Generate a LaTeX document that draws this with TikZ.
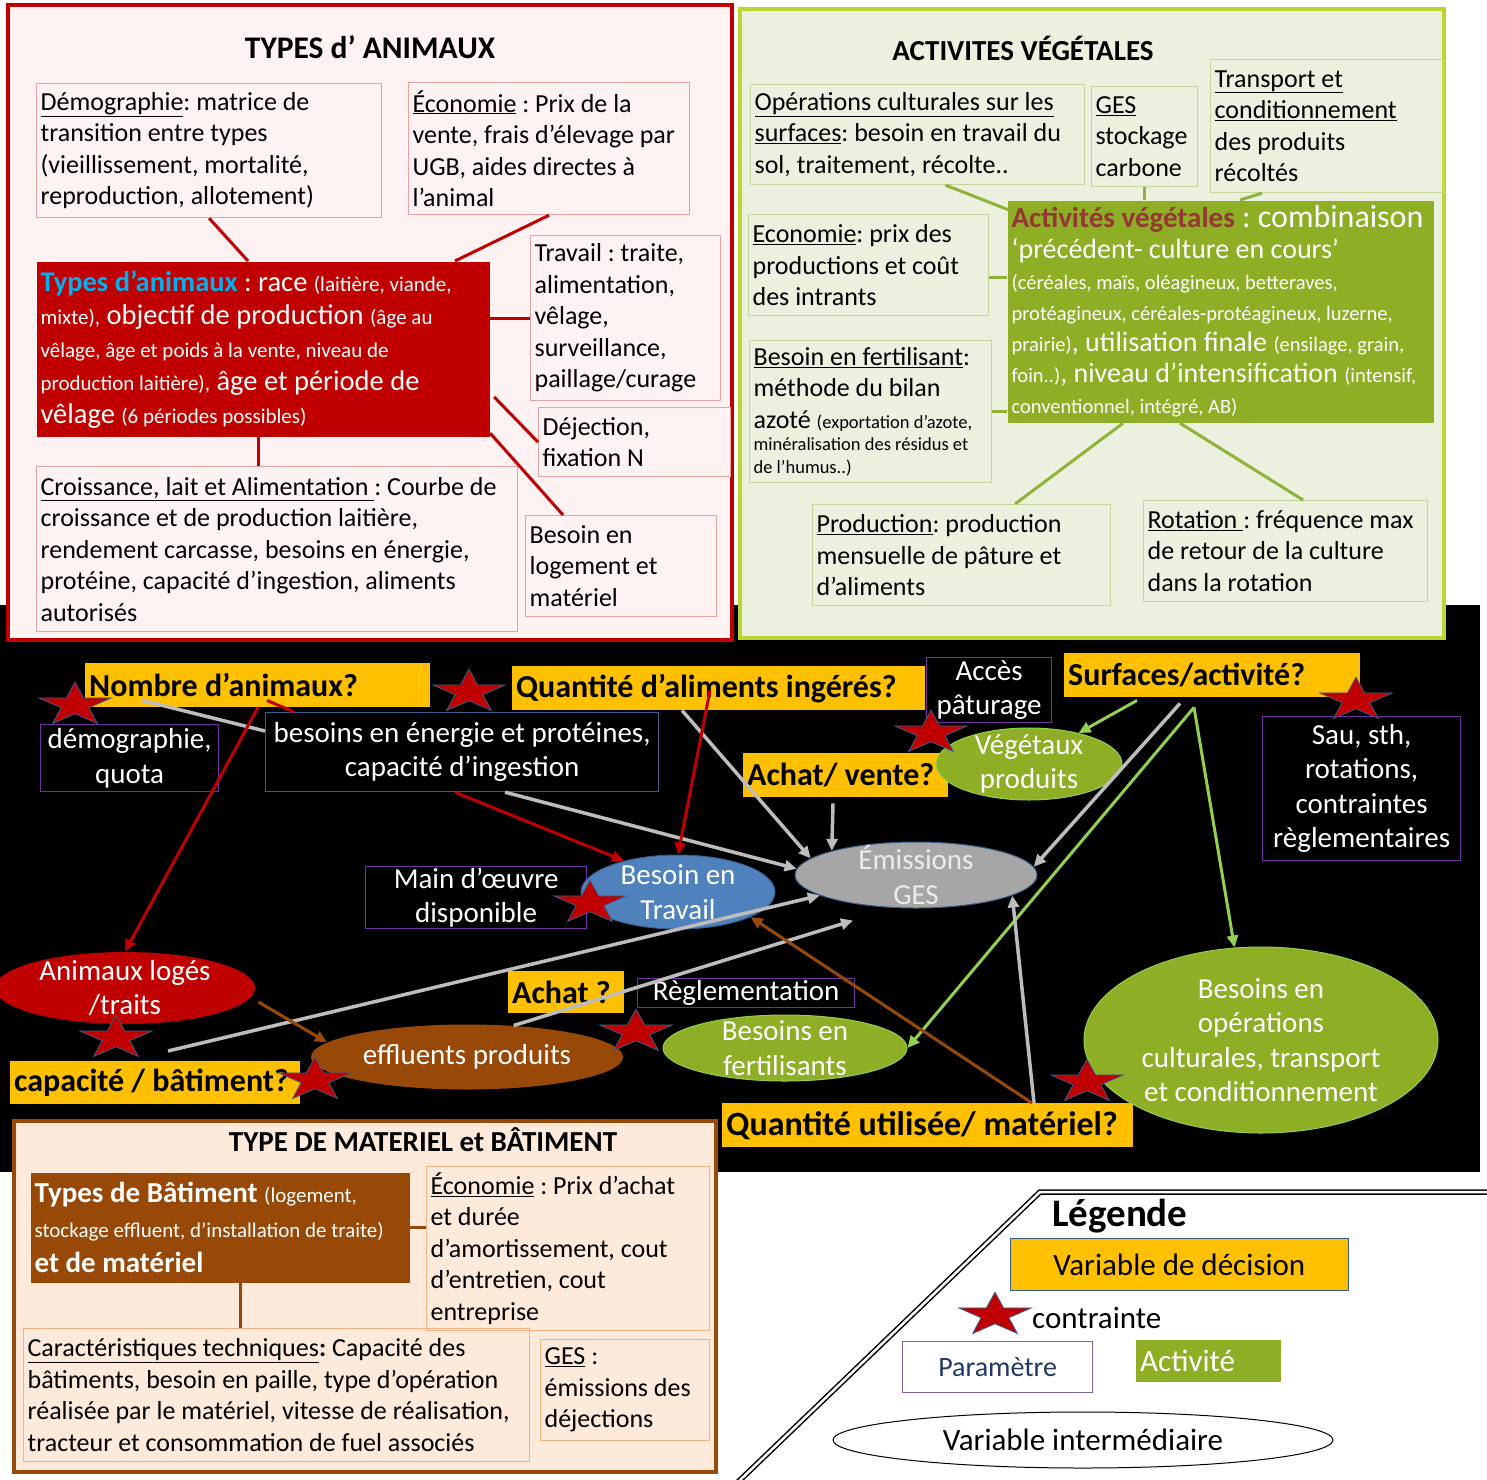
\documentclass[tikz,border=0pt]{standalone}
\usepackage{fontspec}
\setmainfont{Carlito}
\usetikzlibrary{calc}
\usetikzlibrary{shapes.geometric}
\usetikzlibrary{arrows.meta}
\frenchspacing

\definecolor{rougeF}{HTML}{C00000}
\definecolor{fondRose}{HTML}{FFF2F2}
\definecolor{bordRose}{HTML}{E6A3A3}
\definecolor{vertCadre}{HTML}{BCD631}
\definecolor{fondVert}{HTML}{EBF1DE}
\definecolor{bordVert}{HTML}{C3D69B}
\definecolor{vertOlive}{HTML}{8EAE26}
\definecolor{rougeTitre}{HTML}{953735}
\definecolor{cyanT}{HTML}{00B0F0}
\definecolor{jaune}{HTML}{FFC000}
\definecolor{violetP}{HTML}{7030A0}
\definecolor{violetL}{HTML}{8064A2}
\definecolor{bleuE}{HTML}{4F81BD}
\definecolor{bleuB}{HTML}{385D8A}
\definecolor{grisE}{HTML}{A6A6A6}
\definecolor{grisT}{HTML}{BDBDBD}
\definecolor{brun}{HTML}{984807}
\definecolor{fondPeche}{HTML}{FDEADA}
\definecolor{bordPeche}{HTML}{F4B183}
\definecolor{vertClair}{HTML}{92D050}
\definecolor{vertTrait}{HTML}{8DB33A}
\definecolor{marine}{HTML}{1F3864}

\newcommand{\txtN}{\fontsize{26}{31.5}\selectfont}
\newcommand{\txtP}{\fontsize{21}{25}\selectfont}
\newcommand{\txtG}{\fontsize{28.5}{33}\selectfont}
\newcommand{\txtB}{\fontsize{29}{34.5}\selectfont}
\newcommand{\txtL}{\fontsize{31}{36}\selectfont}

\tikzset{
  titreP/.style={font=\bfseries\fontsize{29}{34}\selectfont},
  boite/.style={anchor=north west, align=flush left, inner xsep=4pt, inner ysep=2pt, font=\txtN, line width=1.2pt},
  boiteR/.style={boite, draw=bordRose},
  boiteV/.style={boite, draw=bordVert},
  boiteP/.style={boite, draw=bordPeche},
  decision/.style={anchor=north west, align=flush left, fill=jaune, inner xsep=4pt, inner ysep=0pt, minimum height=44pt, font=\bfseries\fontsize{32}{36}\selectfont},
  param/.style={anchor=north west, align=center, draw=violetP, line width=1.2pt, inner sep=0pt, text=white, font=\txtB},
  ell/.style={ellipse, inner sep=0pt, line width=1pt},
  txtEll/.style={align=center, text=white, font=\txtB, inner sep=0pt},
  contrainte/.style={star, star points=5, star point ratio=2.6, minimum size=76pt, inner sep=0pt, fill=rougeF, draw=bleuB, line width=0.8pt, yscale=0.6},
  fleche/.style={-{Triangle[length=12pt, width=11pt]}},
  lienR/.style={draw=rougeF, line width=3pt},
  lienV/.style={draw=vertTrait, line width=3pt},
  lienB/.style={draw=brun, line width=3pt},
  gris/.style={draw=grisT, line width=3.5pt},
  rouge/.style={draw=rougeF, line width=3pt},
  vert/.style={draw=vertClair, line width=3pt},
  brunT/.style={draw=brun, line width=3pt}
}

\begin{document}
\begin{tikzpicture}[x=1pt, y=-1pt]
  \path[use as bounding box, fill=white] (0,0) rectangle (1487,1479);
  \fill[black] (0,605) rectangle (1480,1172);

  % types d'animaux
  \draw[line width=3.5pt, draw=rougeF, fill=fondRose] (8,5) rectangle (732,640);
  \node[titreP, font=\bfseries\fontsize{31.5}{36}\selectfont] (titreA) at (370,47) {TYPES d’ ANIMAUX};
  \node[boiteR, text width=337pt, minimum height=134pt] (demo) at (36,83)
    {\underline{Démographie}: matrice de\\transition entre types\\(vieillissement, mortalité,\\reproduction, allotement)};
  \node[boiteR, text width=273pt, minimum height=132pt] (ecoA) at (408,82)
    {\underline{Économie} : Prix de la\\vente, frais d’élevage par\\UGB, aides directes à\\l’animal};
  \node[boiteR, text width=182pt, minimum height=165pt] (travailA) at (530,235)
    {Travail : traite,\\alimentation,\\vêlage,\\surveillance,\\paillage/curage};
  \node[boite, fill=rougeF, text=white, font=\txtG, text width=445pt, minimum height=175pt] (typesA) at (36,261)
    {{\bfseries\color{cyanT}Types d’animaux} : race {\txtP (laitière, viande,}\\
     {\txtP mixte),} objectif de production {\txtP (âge au}\\
     {\txtP vêlage, âge et poids à la vente, niveau de}\\
     {\txtP production laitière),} âge et période de\\
     vêlage {\txtP (6 périodes possibles)}};
  \node[boiteR, text width=184pt, minimum height=69pt] (dejection) at (538,407) {Déjection,\\fixation N};
  \node[boiteR, text width=473pt, minimum height=165pt] (croissance) at (36,466)
    {\underline{Croissance, lait et Alimentation\ }: Courbe de\\croissance et de production laitière,\\rendement carcasse, besoins en énergie,\\protéine, capacité d’ingestion, aliments\\autorisés};
  \node[boiteR, text width=183pt, minimum height=101pt] (logement) at (525,515) {Besoin en\\logement et\\matériel};

  \draw[lienR] (demo.south) -- ($(typesA.north west)+(212,0)$);
  \draw[lienR] (ecoA.south) -- ($(typesA.north west)+(419,0)$);
  \draw[lienR] (travailA.west) -- (travailA.west -| typesA.east);
  \draw[lienR] ($(typesA.north east)+(4,136)$) -- (dejection.west);
  \draw[lienR] ($(typesA.south east)+(0,-4)$) -- ($(logement.north west)+(38,0)$);
  \draw[lienR] ($(typesA.south west)+(222,0)$) -- ($(croissance.north west)+(222,0)$);

  % activites vegetales
  \draw[line width=3.5pt, draw=vertCadre, fill=fondVert] (740,9) rectangle (1444,638);
  \node[titreP] (titreV) at (1023,48) {ACTIVITES VÉGÉTALES};
  \node[boiteV, text width=326pt, minimum height=100pt] (opCult) at (750,84)
    {\underline{Opérations culturales sur les}\\\underline{surfaces}: besoin en travail du\\sol, traitement, récolte..};
  \node[boiteV, text width=98pt, minimum height=100pt] (gesV) at (1091,86) {\underline{GES}\\stockage\\carbone};
  \node[boiteV, text width=225pt, minimum height=133pt] (transport) at (1210,59)
    {\underline{Transport et}\\\underline{conditionnement}\\des produits\\récoltés};
  \node[boiteV, text width=232pt, minimum height=101pt] (ecoV) at (748,214)
    {\underline{Economie}: prix des\\productions et coût\\des intrants};
  \node[boite, fill=vertOlive, text=white, font=\fontsize{28}{31}\selectfont, text width=418pt, minimum height=222pt] (activV) at (1007,200)
    {{\bfseries\fontsize{29}{31}\selectfont\color{rougeTitre}Activités végétales}{\fontsize{32}{31}\selectfont{} : combinaison}\\
     ‘précédent- culture en cours’\\
     {\fontsize{20.5}{24}\selectfont (céréales, maïs, oléagineux, betteraves,}\\
     {\fontsize{20.5}{24}\selectfont protéagineux, céréales-protéagineux, luzerne,}\\
     {\fontsize{20.5}{24}\selectfont prairie)}, utilisation finale {\fontsize{20.5}{24}\selectfont (ensilage, grain,}\\
     {\fontsize{20.5}{24}\selectfont foin..)}, niveau d’intensification {\fontsize{20.5}{24}\selectfont (intensif,}\\
     {\fontsize{20.5}{24}\selectfont conventionnel, intégré, AB)}};
  \node[boiteV, text width=234pt, minimum height=142pt] (fertV) at (749,340)
    {\underline{Besoin en fertilisant}:\\méthode du bilan\\azoté {\fontsize{18.5}{22.5}\selectfont (exportation d’azote,}\par
     {\fontsize{18.5}{22.5}\selectfont minéralisation des résidus et\\de l’humus..)\par}};
  \node[boiteV, text width=290pt, minimum height=101pt] (production) at (812,504)
    {\underline{Production}: production\\mensuelle de pâture et\\d’aliments};
  \node[boiteV, text width=276pt, minimum height=101pt] (rotation) at (1143,500)
    {\underline{Rotation\ }: fréquence max\\de retour de la culture\\dans la rotation};

  \draw[lienV] ($(opCult.south)+(28,0)$) -- ($(activV.north west)+(2,10)$);
  \draw[lienV] (gesV.south) -- (gesV.south |- activV.north);
  \draw[lienV] ($(transport.south west)+(52,0)$) -- ($(activV.north west)+(233,0)$);
  \draw[lienV] ($(ecoV.east)+(0,12)$) coordinate (e1) -- (e1 -| activV.west);
  \draw[lienV] (fertV.east) -- (fertV.east -| activV.west);
  \draw[lienV] ($(activV.south west)+(116,0)$) -- ($(production.north west)+(203,0)$);
  \draw[lienV] ($(activV.south west)+(173,0)$) -- ($(rotation.north west)+(160,0)$);

  % variables
  \node[decision, text width=337pt] (dNombre) at (85,663) {Nombre d’animaux?};
  \node[decision, text width=405pt] (dQuantite) at (512,666) {Quantité d’aliments ingérés?};
  \node[decision, text width=288pt] (dSurf) at (1064,653) {Surfaces/activité?};
  \node[decision, text width=197pt] (dAchatV) at (743,753) {Achat/ vente?};
  \node[decision, text width=108pt, minimum height=42pt] (dAchat) at (508,971) {Achat ?};
  \node[decision, text width=282pt, minimum height=43pt] (dCapa) at (10,1061) {capacité / bâtiment?};
  \node[decision, text width=403pt, font=\bfseries\fontsize{34}{38}\selectfont] (dQutil) at (722,1103) {Quantité utilisée/ matériel?};

  \node[param, minimum width=178pt, minimum height=67pt] (pDemo) at (40,724) {démographie,\\quota};
  \node[param, draw=bleuB, minimum width=393pt, minimum height=79pt] (pBesoins) at (265,712) {besoins en énergie et protéines,\\capacité d’ingestion};
  \node[param, minimum width=125pt, minimum height=65pt] (pAcces) at (926,657) {Accès\\pâturage};
  \node[param, minimum width=221pt, minimum height=62pt] (pMain) at (365,866) {Main d’œuvre\\disponible};
  \node[param, minimum width=217pt, minimum height=29pt] (pRegl) at (637,978) {Règlementation};
  \node[param, minimum width=198pt, minimum height=144pt] (pSau) at (1262,716) {Sau, sth,\\rotations,\\contraintes\\règlementaires};

  \node[ell, fill=bleuE, draw=bleuB, minimum width=194pt, minimum height=74pt] (eTravail) at (678,892) {};
  \node[ell, fill=grisE, draw=bleuB, minimum width=242pt, minimum height=66pt] (eEmis) at (916,875) {};
  \node[ell, fill=vertOlive, draw=vertClair, minimum width=186pt, minimum height=72pt] (eVeg) at (1029,764) {};
  \node[ell, fill=rougeF, minimum width=260pt, minimum height=72pt] (eAnim) at (125,988) {};
  \node[ell, fill=brun, minimum width=312pt, minimum height=65pt] (eEfflu) at (467,1057) {};
  \node[ell, fill=vertOlive, draw=vertClair, minimum width=244pt, minimum height=66pt] (eFert) at (785,1048) {};
  \node[ell, fill=vertOlive, draw=vertClair, minimum width=354pt, minimum height=186pt] (eOper) at (1261,1040) {};
  \node[txtEll] (tTravail) at (eTravail) {Besoin en\\Travail};
  \node[txtEll, text=gray!15] (tEmis) at (eEmis) {Émissions\\GES};
  \node[txtEll] (tVeg) at (eVeg) {Végétaux\\produits};
  \node[txtEll] (tAnim) at (eAnim) {Animaux logés\\/traits};
  \node[txtEll] (tEfflu) at (eEfflu) {effluents produits};
  \node[txtEll] (tFert) at (eFert) {Besoins en\\fertilisants};
  \node[txtEll] (tOper) at (eOper) {Besoins en\\opérations\\culturales, transport\\et conditionnement};

  \draw[gris] ($(dNombre.south west)+(57,-7)$) -- ($(pBesoins.north west)+(0,19)$);
  \draw[rouge] ($(dNombre.south west)+(182,-7)$) -- ($(pBesoins.north west)+(29,0)$);
  \draw[rouge, fleche] ($(dNombre.south west)+(173,0)$) -- (eAnim.north);
  \draw[rouge, fleche] ($(pBesoins.south west)+(190,0)$) -- (eTravail.150);
  \draw[gris, fleche] ($(pBesoins.south west)+(240,0)$) -- (eEmis.177);
  \draw[gris, fleche] ($(dQuantite.south west)+(170,0)$) -- (eEmis.171);
  \draw[rouge, fleche] ($(dQuantite.south west)+(198,-20)$) -- (eTravail.north);
  \draw[gris, fleche] ($(dAchatV.south west)+(90,6)$) -- (eEmis.164);
  \draw[gris, fleche] ($(dSurf.south west)+(116,6)$) -- (eEmis.4);
  \draw[vert, fleche] ($(dSurf.south west)+(73,3)$) -- (eVeg.32);
  \draw[vert, fleche] ($(dSurf.south west)+(130,10)$) -- (eFert.east);
  \draw[vert, fleche] ($(dSurf.south west)+(130,10)$) -- (eOper.106);
  \draw[gris, fleche] ($(dCapa.north west)+(158,-10)$) -- (eEmis.192);
  \draw[gris, fleche] (eEfflu.34) -- ($(eEmis.south)+(-63,12)$);
  \draw[gris, fleche] ($(dQutil.north west)+(312,0)$) -- (eEmis.348);
  \draw[brunT, fleche] ($(eAnim.east)+(3,14)$) -- (eEfflu.174);
  \draw[brunT, fleche] ($(dQutil.north west)+(310,0)$) -- (eTravail.341);

  \foreach \x/\y [count=\i] in {75/705, 469/692, 931/733, 1356/700, 590/903, 116/1038, 315/1080, 636/1032, 1087/1082}
    \node[contrainte] (c\i) at (\x,\y) {};

  % materiel et batiment
  \draw[line width=3.5pt, draw=brun, fill=fondPeche] (14,1121) rectangle (716,1472);
  \node[titreP] (titreB) at (423,1140) {TYPE DE MATERIEL et BÂTIMENT};
  \node[boite, fill=brun, text=white, font=\fontsize{29}{35}\selectfont, text width=371pt, minimum height=110pt] (typesB) at (30,1172)
    {{\bfseries Types de Bâtiment} {\txtP (logement,}\\
     {\txtP stockage effluent, d’installation de traite)}\\
     {\bfseries et de matériel}};
  \node[boiteP, text width=275pt, minimum height=164pt] (ecoB) at (426,1166)
    {\underline{Économie} : Prix d’achat\\et durée\\d’amortissement, cout\\d’entretien, cout\\entreprise};
  \node[boiteP, text width=498pt, minimum height=133pt] (caract) at (23,1328)
    {\underline{Caractéristiques techniques}\textbf{:} Capacité des\\bâtiments, besoin en paille, type d’opération\\réalisée par le matériel, vitesse de réalisation,\\tracteur et consommation de fuel associés};
  \node[boiteP, text width=161pt, minimum height=101pt] (gesB) at (540,1339)
    {\underline{GES} :\\émissions des\\déjections};

  \draw[lienB] (typesB.east) -- (typesB.east -| ecoB.west);
  \draw[lienB] ($(typesB.south west)+(210,0)$) coordinate (b1) -- (b1 |- caract.north);

  % legende
  \draw[line width=1.5pt, double, double distance=2.5pt] (738,1482) -- (1040,1192) -- (1490,1192);
  \node[anchor=west, inner sep=0pt, font=\bfseries\fontsize{39}{43}\selectfont] (lgTitre) at (1052,1216) {Légende};
  \node[anchor=north west, draw=bleuB, line width=0.8pt, fill=jaune, minimum width=338pt, minimum height=52pt, font=\txtL] (lgDecision) at (1010,1238) {Variable de décision};
  \node[contrainte] (lgStar) at (995,1315) {};
  \node[anchor=west, inner sep=0pt, font=\txtL] (lgContr) at (1032,1318) {contrainte};
  \node[anchor=north west, draw=violetL, line width=1.2pt, fill=white, minimum width=190pt, minimum height=51pt, text=marine, font=\fontsize{28}{33}\selectfont] (lgParam) at (902,1341) {Paramètre};
  \node[anchor=north west, fill=vertOlive, text=white, align=flush left, inner xsep=4pt, text width=137pt, minimum height=42pt, font=\txtL] (lgActiv) at (1136,1340) {Activité};
  \node[ell, draw=black, fill=white, minimum width=500pt, minimum height=56pt, font=\txtL] (lgInter) at (1083,1440) {Variable intermédiaire};
\end{tikzpicture}
\end{document}
